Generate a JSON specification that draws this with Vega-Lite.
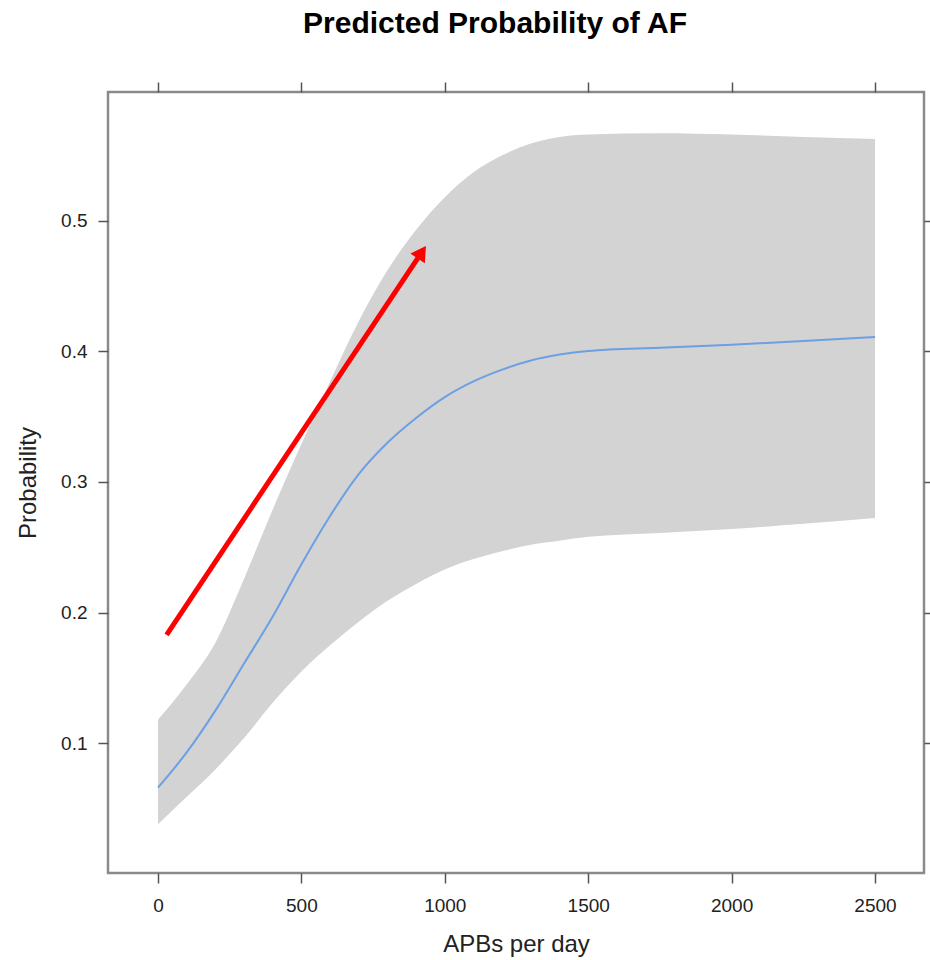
{
  "$schema": "https://vega.github.io/schema/vega-lite/v6.json",
  "width": 816,
  "height": 781,
  "autosize": {"type": "none"},
  "padding": {"left": 108, "top": 92, "right": 6, "bottom": 87},
  "background": "white",
  "title": {
    "text": "Predicted Probability of AF",
    "font": "Liberation Sans",
    "fontSize": 30,
    "fontWeight": "bold",
    "color": "#000000",
    "anchor": "middle",
    "dx": -21,
    "offset": 42
  },
  "datasets": {
    "curve": [
      {"apb": 0, "lo": 0.038, "fit": 0.066, "hi": 0.118},
      {"apb": 100, "lo": 0.059, "fit": 0.093, "hi": 0.145},
      {"apb": 200, "lo": 0.080, "fit": 0.125, "hi": 0.177},
      {"apb": 300, "lo": 0.104, "fit": 0.161, "hi": 0.226},
      {"apb": 400, "lo": 0.131, "fit": 0.197, "hi": 0.279},
      {"apb": 500, "lo": 0.155, "fit": 0.237, "hi": 0.329},
      {"apb": 600, "lo": 0.175, "fit": 0.274, "hi": 0.377},
      {"apb": 700, "lo": 0.193, "fit": 0.306, "hi": 0.423},
      {"apb": 800, "lo": 0.209, "fit": 0.330, "hi": 0.462},
      {"apb": 900, "lo": 0.222, "fit": 0.349, "hi": 0.493},
      {"apb": 1000, "lo": 0.233, "fit": 0.365, "hi": 0.518},
      {"apb": 1100, "lo": 0.241, "fit": 0.377, "hi": 0.537},
      {"apb": 1200, "lo": 0.247, "fit": 0.386, "hi": 0.550},
      {"apb": 1300, "lo": 0.252, "fit": 0.393, "hi": 0.559},
      {"apb": 1400, "lo": 0.255, "fit": 0.3975, "hi": 0.564},
      {"apb": 1500, "lo": 0.258, "fit": 0.4003, "hi": 0.566},
      {"apb": 1750, "lo": 0.261, "fit": 0.4028, "hi": 0.567},
      {"apb": 2000, "lo": 0.264, "fit": 0.405, "hi": 0.566},
      {"apb": 2250, "lo": 0.268, "fit": 0.408, "hi": 0.564},
      {"apb": 2500, "lo": 0.2725, "fit": 0.411, "hi": 0.5625}
    ],
    "arrow": [
      {"x0": 30, "y0": 0.1829, "x1": 919.8, "y1": 0.4759, "hx": 919.8, "hy": 0.4759}
    ]
  },
  "layer": [
    {
      "data": {"name": "curve"},
      "mark": {"type": "area", "color": "#d3d3d3", "opacity": 1, "interpolate": "monotone"},
      "encoding": {
        "x": {
          "field": "apb", "type": "quantitative",
          "scale": {"domain": [-174.3, 2670.8], "nice": false, "zero": false},
          "axis": {
            "orient": "bottom", "title": "APBs per day",
            "values": [0, 500, 1000, 1500, 2000, 2500],
            "format": "d",
            "labelPadding": 13, "titlePadding": 17
          }
        },
        "y": {
          "field": "lo", "type": "quantitative",
          "scale": {"domain": [0.0007, 0.5985], "nice": false, "zero": false},
          "axis": {
            "orient": "left", "title": "Probability",
            "values": [0.1, 0.2, 0.3, 0.4, 0.5],
            "format": ".1f",
            "labelPadding": 11, "titlePadding": 20
          }
        },
        "y2": {"field": "hi"}
      }
    },
    {
      "data": {"name": "curve"},
      "mark": {"type": "line", "color": "#6c9fe3", "strokeWidth": 2, "interpolate": "monotone"},
      "encoding": {
        "x": {
          "field": "apb", "type": "quantitative",
          "axis": {"orient": "top", "title": null, "labels": false,
                   "values": [0, 500, 1000, 1500, 2000, 2500]}
        },
        "y": {
          "field": "fit", "type": "quantitative",
          "axis": {"orient": "right", "title": null, "labels": false,
                   "values": [0.1, 0.2, 0.3, 0.4, 0.5]}
        }
      }
    },
    {
      "data": {"name": "arrow"},
      "mark": {"type": "rule", "color": "#ff0000", "strokeWidth": 5},
      "encoding": {
        "x": {"field": "x0", "type": "quantitative", "axis": null},
        "y": {"field": "y0", "type": "quantitative", "axis": null},
        "x2": {"field": "x1"},
        "y2": {"field": "y1"}
      }
    },
    {
      "data": {"name": "arrow"},
      "mark": {"type": "point", "shape": "triangle-up", "filled": true, "color": "#ff0000",
               "opacity": 1, "size": 300, "angle": 33.7},
      "encoding": {
        "x": {"field": "hx", "type": "quantitative", "axis": null},
        "y": {"field": "hy", "type": "quantitative", "axis": null}
      }
    }
  ],
  "resolve": {"axis": {"x": "independent", "y": "independent"}},
  "config": {
    "view": {"stroke": "#8a8a8a", "strokeWidth": 2.5},
    "axis": {
      "domain": false,
      "grid": false,
      "ticks": true,
      "tickSize": 10,
      "tickColor": "#555555",
      "tickWidth": 1.5,
      "labelFont": "Liberation Sans",
      "labelFontSize": 19,
      "labelColor": "#222222",
      "titleFont": "Liberation Sans",
      "titleFontSize": 24,
      "titleFontWeight": "normal",
      "titleColor": "#222222"
    }
  }
}
